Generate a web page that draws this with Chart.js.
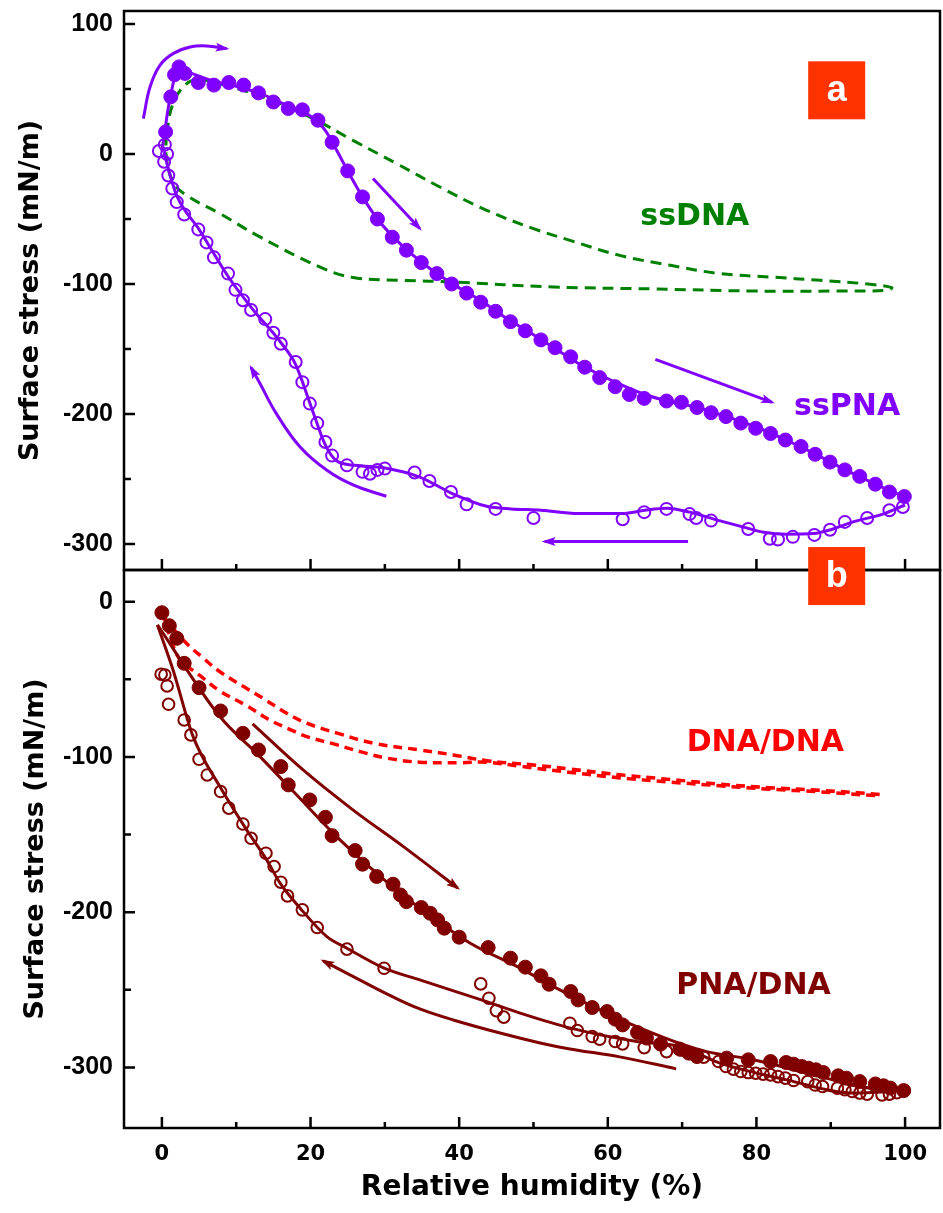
<!DOCTYPE html>
<html>
<head>
<meta charset="utf-8">
<title>Surface stress vs relative humidity</title>
<script src="https://cdn.jsdelivr.net/npm/chart.js@4.4.1/dist/chart.umd.min.js"></script>
<style>
    html, body { margin: 0; padding: 0; background: #ffffff; }
    #wrap { position: relative; width: 943px; height: 1213px; }
    #panelA { position: absolute; left: 0; top: 0; }
    #panelB { position: absolute; left: 0; top: 540px; }
</style>
</head>
<body>
<div id="wrap">
    <canvas id="panelA" width="943" height="580"></canvas>
    <canvas id="panelB" width="943" height="673"></canvas>
</div>
<script>
// ---- axis ticks ----
const xTickLabels = [0, 20, 40, 60, 80, 100];
const xMinorTicks = [10, 30, 50, 70, 90];
const yTickLabelsA = [100, 0, -100, -200, -300];
const yMinorTicksA = [50, -50, -150, -250];
const yTickLabelsB = [0, -100, -200, -300];
const yMinorTicksB = [-50, -150, -250];

// ---- panel a : ssPNA (symbols) ----
const ssPnaAdsX = [0.5, 1.2, 1.7, 2.3, 3.1, 4.9, 7.0, 9.0, 11.0, 13.0, 15.0, 17.0, 18.9, 21.0, 22.9, 25.0, 27.0, 29.0, 31.0, 32.9,
    34.9, 37.0, 39.0, 41.0, 42.9, 44.9, 46.9, 48.9, 51.0, 52.9, 55.0, 56.9, 58.9, 61.0, 62.9, 64.9, 67.9, 69.9, 72.0, 73.9,
    75.9, 77.9, 79.9, 81.9, 83.9, 86.0, 87.9, 89.9, 91.9, 93.9, 96.0, 97.9, 99.9];
const ssPnaAdsY = [17, 44, 61, 67, 62, 55, 53, 55, 53, 47, 40, 35, 34, 26, 9, -13, -33, -50, -64, -74,
    -83.5, -92, -100, -107, -114, -121, -129, -136, -143, -149, -156, -164, -172, -179, -185, -188, -190, -191, -195, -199,
    -202, -207, -211, -215, -220, -225, -231, -237, -243, -248, -254, -260, -263.5];
const ssPnaDesX = [99.7, 97.9, 94.9, 91.9, 89.9, 87.8, 84.9, 82.9, 81.8, 78.9, 73.9, 71.9, 71.0, 67.9, 64.9, 62.0, 50.0, 44.9, 41.0, 38.9,
    36.0, 34.0, 30.0, 29.0, 28.0, 27.0, 24.9, 22.9, 22.0, 20.9, 19.9, 18.9, 18.0, 16.0, 15.0, 13.9, 12.0, 10.9, 9.9, 8.9,
    7.0, 6.0, 4.9, 3.0, 2.0, 1.4, 0.86, 0.3, 0.7, -0.4, 0.4];
const ssPnaDesY = [-271.5, -274, -280, -283, -289, -293, -294.5, -296.5, -296, -288.5, -282, -280, -277, -273, -275.5, -281, -280, -273, -269.5, -260,
    -251.5, -245, -242, -243, -246, -244.5, -239.5, -232, -221.5, -207, -192, -175.5, -160, -146, -137.5, -127, -120, -112.5, -104.5, -92,
    -79.5, -68, -58, -46.5, -37, -26.5, -16.5, -6, 0, 2.3, 7.2];

// ---- panel a : ssPNA fitted curves ----
const ssPnaFitAdsX = [0, 1, 2.3, 4, 7, 10, 13, 17, 20, 22, 23.5, 25, 27, 29, 31, 33, 35, 37, 40, 43, 46, 50, 53, 56, 59, 62, 65, 68, 72, 76, 80, 84, 88, 92, 96, 100];
const ssPnaFitAdsY = [2, 40, 66, 62, 56, 52, 47, 37, 29, 18, 3, -13, -33, -50, -63, -74, -83.5, -92, -103, -113, -125, -139, -150, -161, -170, -178, -185, -190, -195, -202, -210, -220, -231, -243, -254, -264];
const ssPnaFitDesX = [100, 97, 93, 90, 87.7, 84, 81, 78.9, 75, 71, 68, 65, 62, 56, 51, 47, 43.7, 39, 34.7, 30, 26, 23.5, 22, 20, 18, 16, 12.3, 9, 5, 2, 0.8, 0.3];
const ssPnaFitDesY = [-270, -277, -283, -289, -292, -292.5, -291, -288, -282, -275.5, -272.5, -274, -276.5, -276.5, -274, -273, -271, -261, -248.5, -241.5, -239.5, -236, -224, -193, -162, -145, -120, -95, -58, -32, -10, 2];

// ---- panel a : ssDNA loop (dashed) ----
const ssDnaX = [0.6, 1.5, 3.3, 5.1, 7.8, 14.5, 20.4, 25.7, 31.6, 37.4, 43.7, 50, 54.9, 61.6, 68.4, 75.1, 81.8, 88.6, 95.3, 98.2,
    97.5, 90.8, 79.6, 66.1, 52.7, 39.2, 32.5, 25.7, 21.3, 13.2, 7.8, 3.3, 1.5, 0.6, 0.6];
const ssDnaY = [15.7, 38.8, 54, 57, 54, 42, 27, 10.5, -7.4, -25.4, -43.3, -57.4, -66.4, -78, -85.6, -92, -94.6, -97.2, -100.2, -102.8,
    -104.8, -105.4, -105.4, -103.8, -102.3, -98.5, -97.2, -95, -87, -63.8, -45.8, -31.8, -21.5, -2.3, 15.7];

// ---- panel b : PNA/DNA (symbols) ----
const pnaAdsX = [0, 1, 2, 3, 5, 7.9, 10.9, 13, 16, 17, 19.9, 22, 22.9, 26, 27, 28.9, 31.1, 32.1, 32.9, 34.9,
    36.1, 37.1, 38, 40, 43.9, 46.9, 48.9, 51, 52.1, 55, 56, 57.9, 59.9, 61, 62, 64, 65.2, 67.1, 69.7, 70.9,
    72, 76, 78.9, 81.9, 84, 85, 86.1, 87, 88, 89, 91, 92.1, 93.9, 96, 97.1, 98, 99.8];
const pnaAdsY = [-7.1, -15.5, -23.6, -39.7, -55.4, -70.4, -84.8, -95.5, -106.2, -118, -127.7, -138.9, -150.7, -160.3, -169.1, -177, -182, -188.9, -193.2, -197,
    -200.7, -205, -210.3, -216.1, -222.8, -229.6, -235.4, -241, -246.4, -251.1, -256.5, -261.4, -264, -268.9, -272.6, -277.5, -281.1, -285, -288.2, -290.8,
    -293, -294, -295.1, -296.2, -296.8, -297.9, -299.4, -300.5, -301.5, -303.3, -305.4, -306.9, -309.1, -310.6, -311.8, -313.3, -314.9];
const pnaDesX = [-0.1, 0.4, 0.7, 0.9, 3, 3.9, 5, 6.1, 7.9, 9, 10.9, 12, 14, 15.1, 16, 16.9, 18.9, 20.9, 24.9, 29.9,
    42.9, 44, 45, 46, 54.9, 55.9, 57.9, 58.9, 61, 62, 64.9, 67.9, 69.9, 72, 72.9, 74.9, 75.9, 76.9, 77.9, 78.9,
    79.9, 80.9, 81.9, 82.9, 83.9, 85, 86.9, 87.9, 88.9, 90.9, 91.9, 92.9, 93.9, 94.9, 96.9, 97.9, 98.9, 99.9];
const pnaDesY = [-46.7, -47.2, -54.3, -66.1, -76.2, -85.8, -101.5, -111.6, -122.3, -133, -143.2, -152.4, -162, -170.6, -180.7, -189.5, -198.5, -209.9, -223.8, -236.1,
    -246.2, -255.4, -263.4, -267.6, -271.5, -276.2, -280.1, -281.8, -283.3, -284.8, -287.2, -289.8, -288.7, -291.9, -293.4, -296.2, -299.4, -301.1, -302.6, -303.3,
    -303.7, -304.3, -304.8, -305.9, -306.9, -308.4, -309.1, -311.3, -312.3, -313.3, -314.4, -315.5, -316.5, -317.2, -317.7, -317.2, -316.2, -314.9];

// ---- panel b : PNA/DNA fitted curves ----
const pnaFitAdsX = [-0.6, 7.8, 13.2, 17.7, 23.5, 30.2, 36, 41.5, 48.2, 52.7, 59.4, 63.9, 70.2, 73.3, 79.6, 88.6, 95.3, 99.8];
const pnaFitAdsY = [-15, -74, -99.8, -122.3, -151.3, -180.3, -202, -220, -236, -247.9, -264, -273.7, -285.4, -289.8, -295.1, -305.9, -313.3, -314.9];
const pnaFitDesX = [99.8, 93, 84.1, 75.1, 69.7, 63.9, 55, 48.2, 43.7, 34.7, 29.9, 24.9, 22.2, 18.6, 15.9, 14.1, 11.4, 7.8, 4.2, 1.5, -0.6];
const pnaFitDesY = [-315, -316.5, -308, -297.2, -286.5, -283.3, -274.7, -265, -257.6, -243.6, -236, -223.2, -215.7, -197.4, -181.3, -166.3, -147, -119.1, -86.9, -44, -15];

// ---- panel b : DNA/DNA loop (dashed) ----
const dnaDnaX = [0.2, 3.1, 5.6, 7.8, 11, 13.6, 16.8, 19.5, 23.6, 28.5, 34.7, 39.2, 43.7, 50, 55, 61.6, 68.4, 75.1, 81.8, 88.6, 96.6,
    96.6, 88.6, 81.8, 75.1, 68.4, 61.6, 55, 48.2, 43.7, 40.1, 34.7, 30.3, 26.7, 23.1, 19.5, 17.2, 14.5, 11.4, 7.8, 5.1, 2.4, 1.1, 0.2];
const dnaDnaY = [-9.7, -25.8, -36.5, -45.1, -54.7, -62.2, -71.9, -78.3, -84.7, -91.2, -95.5, -98.7, -102.4, -105.2, -107.8, -111.5, -114.5, -117.5, -119.8, -121.5, -124.2,
    -125, -122.5, -120.8, -118.6, -116.2, -113.5, -110, -106, -103.4, -103.7, -103.4, -100.8, -96.6, -91.6, -86.9, -82.2, -76.2, -67, -57.5, -47.5, -37, -22.5, -9.7];

// ---- direction arrows (data units) ----
const arrowA1X = [-2.5, -1.6, -0.27, 1.5, 3.8, 6, 8.7];
const arrowA1Y = [27.2, 51.5, 68.2, 77.2, 82.3, 83.1, 81.1];
const arrowA2X = [28.4, 34.7];
const arrowA2Y = [-18.8, -57.3];
const arrowA3X = [66.4, 82.1];
const arrowA3Y = [-158, -191];
const arrowA4X = [70.8, 51.5];
const arrowA4Y = [-298, -298];
const arrowA5X = [30.2, 25.8, 22.2, 18.6, 15.4, 13.2, 12];
const arrowA5Y = [-263.3, -254.8, -243.3, -225.4, -199.7, -176.6, -164.3];
const arrowB1X = [12.2, 19, 25.7, 32.5, 39.8];
const arrowB1Y = [-78.7, -108.4, -134.1, -157.8, -184.4];
const arrowB2X = [69.2, 61.6, 54.9, 50.9, 45.5, 39.2, 34.7, 31.1, 26.6, 21.7];
const arrowB2Y = [-300.9, -293.2, -288.1, -284.2, -277.8, -269.4, -262.3, -254.6, -243.6, -231.4];

const PURPLE = '#8000ff';
const GREEN = '#008000';
const RED = '#ff0000';
const DARKRED = '#800000';
const BADGE = '#ff3300';

function xy(xs, ys) {
    return xs.map((x, i) => ({ x: x, y: ys[i] }));
}

function lineSet(xs, ys, color, extra) {
    return Object.assign({
        data: xy(xs, ys),
        showLine: true,
        borderColor: color,
        backgroundColor: color,
        borderWidth: 3,
        pointRadius: 0,
        pointHoverRadius: 0,
        fill: false,
        tension: 0.4
    }, extra || {});
}

function markerSet(xs, ys, color, filled, radius) {
    return {
        data: xy(xs, ys),
        showLine: false,
        pointRadius: radius,
        pointHoverRadius: radius,
        pointBorderWidth: filled ? 1 : 2,
        pointBorderColor: color,
        pointBackgroundColor: filled ? color : 'rgba(255,255,255,0)'
    };
}

function arrowSet(xs, ys, color) {
    return lineSet(xs, ys, color, { arrow: true, borderCapStyle: 'butt' });
}

// frame, inward ticks, arrow heads, text labels
const framePlugin = {
    id: 'frame',
    afterDatasetsDraw(chart, args, opts) {
        const ctx = chart.ctx;
        const a = chart.chartArea;
        const xs = chart.scales.x;
        const ys = chart.scales.y;

        // arrow heads at the end of each arrow dataset
        chart.data.datasets.forEach((ds, i) => {
            if (!ds.arrow) return;
            const pts = chart.getDatasetMeta(i).data;
            const p = pts[pts.length - 1];
            let qx = pts[pts.length - 2].x, qy = pts[pts.length - 2].y;
            if (p.cp1x !== undefined && Math.hypot(p.cp1x - p.x, p.cp1y - p.y) > 1) {
                qx = p.cp1x; qy = p.cp1y;
            }
            const ang = Math.atan2(p.y - qy, p.x - qx);
            ctx.save();
            ctx.fillStyle = ds.borderColor;
            ctx.translate(p.x, p.y);
            ctx.rotate(ang);
            ctx.beginPath();
            ctx.moveTo(3, 0);
            ctx.lineTo(-11, -4.5);
            ctx.lineTo(-8, 0);
            ctx.lineTo(-11, 4.5);
            ctx.closePath();
            ctx.fill();
            ctx.restore();
        });

        // text labels
        (opts.labels || []).forEach(l => {
            ctx.save();
            ctx.font = 'bold 30px "DejaVu Sans"';
            ctx.fillStyle = l.color;
            ctx.textAlign = 'center';
            ctx.textBaseline = 'middle';
            ctx.fillText(l.text, xs.getPixelForValue(l.x), ys.getPixelForValue(l.y));
            ctx.restore();
        });

        // frame and ticks
        ctx.save();
        ctx.strokeStyle = '#000';
        ctx.lineWidth = 2.5;
        ctx.strokeRect(a.left, a.top, a.right - a.left, a.bottom - a.top);
        ctx.beginPath();
        const tick = (vals, len, horiz) => vals.forEach(v => {
            if (horiz) {
                const px = xs.getPixelForValue(v);
                ctx.moveTo(px, a.bottom);
                ctx.lineTo(px, a.bottom - len);
            } else {
                const py = ys.getPixelForValue(v);
                ctx.moveTo(a.left, py);
                ctx.lineTo(a.left + len, py);
            }
        });
        tick(xTickLabels, 11, true);
        tick(xMinorTicks, 6, true);
        tick(opts.yMajor, 11, false);
        tick(opts.yMinor, 7, false);
        ctx.stroke();
        ctx.restore();

        // panel letter
        if (opts.badge) {
            const bx = xs.getPixelForValue(opts.badge.x);
            const by = ys.getPixelForValue(opts.badge.y);
            ctx.save();
            ctx.fillStyle = BADGE;
            ctx.fillRect(bx - 28.5, by - 29, 57, 58);
            ctx.fillStyle = '#ffffff';
            ctx.font = 'bold 36px "Liberation Sans"';
            ctx.textAlign = 'center';
            ctx.textBaseline = 'middle';
            ctx.fillText(opts.badge.text, bx, by + 1);
            ctx.restore();
        }
    }
};

function yAxis(min, max, labels, titlePad) {
    return {
        type: 'linear',
        min: min,
        max: max,
        afterBuildTicks: (s) => { s.ticks = labels.map(v => ({ value: v })); },
        afterFit: (s) => {
            s.width = 124;
            // keep the plot box where the layout padding puts it
            s.paddingTop = 0;
            s.paddingBottom = 0;
        },
        grid: { display: false, drawTicks: false },
        border: { display: false },
        ticks: {
            color: '#000',
            padding: 11,
            font: { family: 'Liberation Sans', weight: 'bold', size: 25 }
        },
        title: {
            display: true,
            text: 'Surface stress (mN/m)',
            color: '#000',
            font: { family: 'DejaVu Sans', weight: 'bold', size: 27 },
            padding: { top: titlePad, bottom: 0 }
        }
    };
}

const baseOptions = {
    responsive: false,
    animation: false,
    events: [],
    plugins: { legend: { display: false }, tooltip: { enabled: false } }
};

// Panel a (ssPNA / ssDNA)
new Chart(document.getElementById('panelA'), {
    type: 'scatter',
    data: {
        datasets: [
            markerSet(ssPnaAdsX, ssPnaAdsY, PURPLE, true, 7),
            markerSet(ssPnaDesX, ssPnaDesY, PURPLE, false, 6),
            lineSet(ssPnaFitAdsX, ssPnaFitAdsY, PURPLE, { cubicInterpolationMode: 'monotone' }),
            lineSet(ssPnaFitDesX, ssPnaFitDesY, PURPLE, { cubicInterpolationMode: 'monotone' }),
            lineSet(ssDnaX, ssDnaY, GREEN, { borderDash: [11, 7], borderWidth: 3 }),
            arrowSet(arrowA1X, arrowA1Y, PURPLE),
            arrowSet(arrowA2X, arrowA2Y, PURPLE),
            arrowSet(arrowA3X, arrowA3Y, PURPLE),
            arrowSet(arrowA4X, arrowA4Y, PURPLE),
            arrowSet(arrowA5X, arrowA5Y, PURPLE)
        ]
    },
    options: Object.assign({}, baseOptions, {
        layout: { autoPadding: false, padding: { top: 11, right: 3, bottom: 10, left: 0 } },
        scales: {
            x: { type: 'linear', min: -5.1, max: 104.7, display: false },
            y: yAxis(-320, 110, yTickLabelsA, 15)
        },
        plugins: {
            legend: { display: false },
            tooltip: { enabled: false },
            frame: {
                yMajor: yTickLabelsA,
                yMinor: yMinorTicksA,
                labels: [
                    { text: 'ssDNA', x: 71.7, y: -48.7, color: GREEN },
                    { text: 'ssPNA', x: 92.2, y: -195, color: PURPLE }
                ],
                badge: { text: 'a', x: 90.8, y: 49 }
            }
        }
    }),
    plugins: [framePlugin]
});

// Panel b (PNA/DNA / DNA/DNA)
new Chart(document.getElementById('panelB'), {
    type: 'scatter',
    data: {
        datasets: [
            markerSet(pnaAdsX, pnaAdsY, DARKRED, true, 7),
            markerSet(pnaDesX, pnaDesY, DARKRED, false, 5.8),
            lineSet(pnaFitAdsX, pnaFitAdsY, DARKRED, { cubicInterpolationMode: 'monotone' }),
            lineSet(pnaFitDesX, pnaFitDesY, DARKRED, { cubicInterpolationMode: 'monotone' }),
            lineSet(dnaDnaX, dnaDnaY, RED, { borderDash: [9, 6], borderWidth: 3.5 }),
            arrowSet(arrowB1X, arrowB1Y, DARKRED),
            arrowSet(arrowB2X, arrowB2Y, DARKRED)
        ]
    },
    options: Object.assign({}, baseOptions, {
        layout: { autoPadding: false, padding: { top: 30, right: 3, bottom: 0, left: 0 } },
        scales: {
            x: {
                type: 'linear',
                min: -5.1,
                max: 104.7,
                afterBuildTicks: (s) => { s.ticks = xTickLabels.map(v => ({ value: v })); },
                afterFit: (s) => {
                    s.height = 85;
                    s.paddingLeft = 0;
                    s.paddingRight = 0;
                },
                grid: { display: false, drawTicks: false },
                border: { display: false },
                ticks: {
                    color: '#000',
                    padding: 14,
                    maxRotation: 0,
                    font: { family: 'DejaVu Sans', weight: 'bold', size: 21 }
                },
                title: {
                    display: true,
                    text: 'Relative humidity (%)',
                    color: '#000',
                    font: { family: 'DejaVu Sans', weight: 'bold', size: 28 },
                    padding: { top: 0, bottom: 8 }
                }
            },
            y: yAxis(-339, 20.4, yTickLabelsB, 20)
        },
        plugins: {
            legend: { display: false },
            tooltip: { enabled: false },
            frame: {
                yMajor: yTickLabelsB,
                yMinor: yMinorTicksB,
                labels: [
                    { text: 'DNA/DNA', x: 81.2, y: -91, color: RED },
                    { text: 'PNA/DNA', x: 79.6, y: -247.5, color: DARKRED }
                ],
                badge: { text: 'b', x: 90.8, y: 16.5 }
            }
        }
    }),
    plugins: [framePlugin]
});
</script>
</body>
</html>
